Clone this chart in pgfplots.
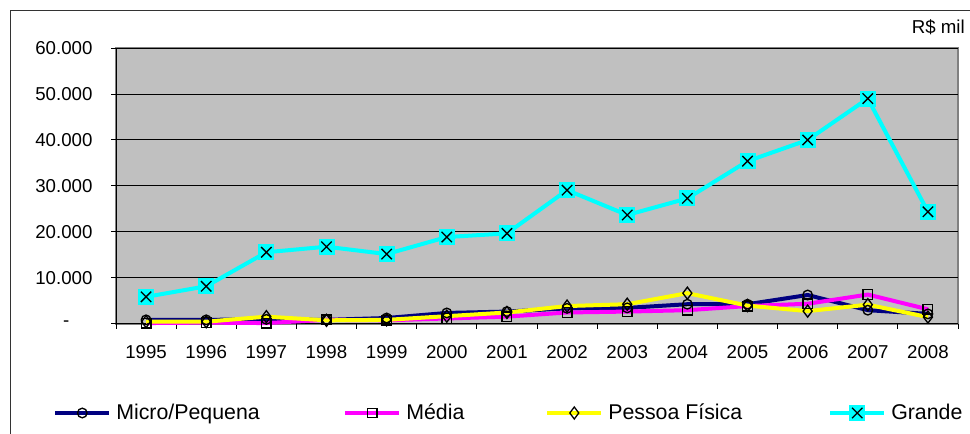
\documentclass[border=0pt]{standalone}
\usepackage{fontspec}
\setmainfont{Liberation Sans}
\usepackage{pgfplots}
\pgfplotsset{compat=1.18}

\definecolor{plotgray}{RGB}{192,192,192}
\definecolor{framegray}{RGB}{128,128,128}
\definecolor{navy}{RGB}{0,0,128}
\definecolor{xmagenta}{RGB}{255,0,255}
\definecolor{xyellow}{RGB}{255,255,0}
\definecolor{xcyan}{RGB}{0,255,255}

% cyan square with a black cross, like the Excel marker
\pgfdeclareplotmark{sqx}{%
  \pgfpathrectangle{\pgfqpoint{-6pt}{-6pt}}{\pgfqpoint{12pt}{12pt}}%
  \pgfsetfillcolor{xcyan}\pgfusepathqfill
  \pgfsetstrokecolor{black}\pgfsetlinewidth{1pt}%
  \pgfpathmoveto{\pgfqpoint{-3.9pt}{-3.9pt}}\pgfpathlineto{\pgfqpoint{3.9pt}{3.9pt}}%
  \pgfpathmoveto{\pgfqpoint{-3.9pt}{3.9pt}}\pgfpathlineto{\pgfqpoint{3.9pt}{-3.9pt}}%
  \pgfusepathqstroke}

\begin{document}
\begin{tikzpicture}
  \path[use as bounding box] (0pt,0pt) rectangle (727.5pt,325.5pt);
  \draw[black!80, line width=0.75pt] (7.5pt,0pt) -- (7.5pt,317.25pt) -- (727.5pt,317.25pt);
  \node[anchor=east, inner sep=0pt, font=\fontsize{14}{16}\selectfont] at (723.75pt,305.25pt) {R\$ mil};

  \begin{axis}[
      at={(87pt,82.5pt)}, anchor=south west,
      scale only axis, width=631.5pt, height=207pt,
      xmin=1994.5, xmax=2008.5,
      ymin=0, ymax=60000,
      scaled y ticks=false,
      clip=false,
      axis x line*=bottom, axis y line*=left,
      axis line style={black, line width=0.75pt},
      axis background/.style={fill=plotgray, draw=framegray, line width=1.5pt},
      xtick={1994.5,1995.5,...,2008.5},
      xticklabels={},
      extra x ticks={1995,1996,...,2008},
      extra x tick labels={1995,1996,1997,1998,1999,2000,2001,2002,2003,2004,2005,2006,2007,2008},
      extra x tick style={major tick length=0pt, grid=none},
      ytick={0,10000,...,60000},
      yticklabels={{\makebox[22pt][l]{-}},10.000,20.000,30.000,40.000,50.000,60.000},
      ymajorgrids,
      major grid style={black, line width=0.75pt},
      tick align=outside,
      major tick length=3.75pt,
      tick style={black, line width=0.75pt},
      xticklabel style={font=\fontsize{14}{16}\selectfont, anchor=north, inner sep=0pt, yshift=-15.75pt},
      yticklabel style={font=\fontsize{14}{16}\selectfont, anchor=east, inner sep=0pt, xshift=-13.75pt},
      every axis plot/.append style={line width=3pt},
      legend columns=4,
      legend style={
          at={(-0.0748,-0.3225)}, anchor=west,
          draw=none, fill=none, inner sep=0pt, column sep=0pt,
          font=\fontsize{16}{18}\selectfont,
          nodes={inner xsep=0pt, inner ysep=1pt},
      },
      legend cell align=left,
      legend image code/.code={%
          \draw[mark repeat=2, mark phase=2, #1]
              plot coordinates {(0pt,0pt) (20.25pt,0pt) (40.5pt,0pt)};},
    ]
    \addplot[navy, mark=o, mark size=3.6pt, mark options={black, solid, line width=1pt}] coordinates {
      (1995,900) (1996,900) (1997,1000) (1998,900) (1999,1300) (2000,2400) (2001,2700)
      (2002,3400) (2003,3500) (2004,4300) (2005,4300) (2006,6300) (2007,3000) (2008,2200)};
    \addlegendentry{\makebox[174pt][l]{\hspace{3.75pt}Micro/Pequena}}

    \addplot[xmagenta, mark=square, mark size=3.6pt, mark options={black, solid, line width=1pt}] coordinates {
      (1995,200) (1996,300) (1997,200) (1998,900) (1999,800) (2000,1200) (2001,1600)
      (2002,2500) (2003,2700) (2004,3000) (2005,3900) (2006,4400) (2007,6400) (2008,3200)};
    \addlegendentry{\makebox[108pt][l]{\hspace{3.75pt}Média}}

    \addplot[xyellow, mark=diamond, mark size=4.5pt, mark options={black, solid, line width=1pt}] coordinates {
      (1995,500) (1996,500) (1997,1600) (1998,800) (1999,900) (2000,1700) (2001,2500)
      (2002,3900) (2003,4300) (2004,6700) (2005,4000) (2006,2800) (2007,4200) (2008,1500)};
    \addlegendentry{\makebox[168.75pt][l]{\hspace{3.75pt}Pessoa Física}}

    \addplot[xcyan, mark=sqx] coordinates {
      (1995,5900) (1996,8200) (1997,15600) (1998,16800) (1999,15200) (2000,18900) (2001,19700)
      (2002,29100) (2003,23700) (2004,27300) (2005,35400) (2006,40000) (2007,49000) (2008,24400)};
    \addlegendentry{\hspace{3.75pt}Grande}
  \end{axis}
\end{tikzpicture}
\end{document}
